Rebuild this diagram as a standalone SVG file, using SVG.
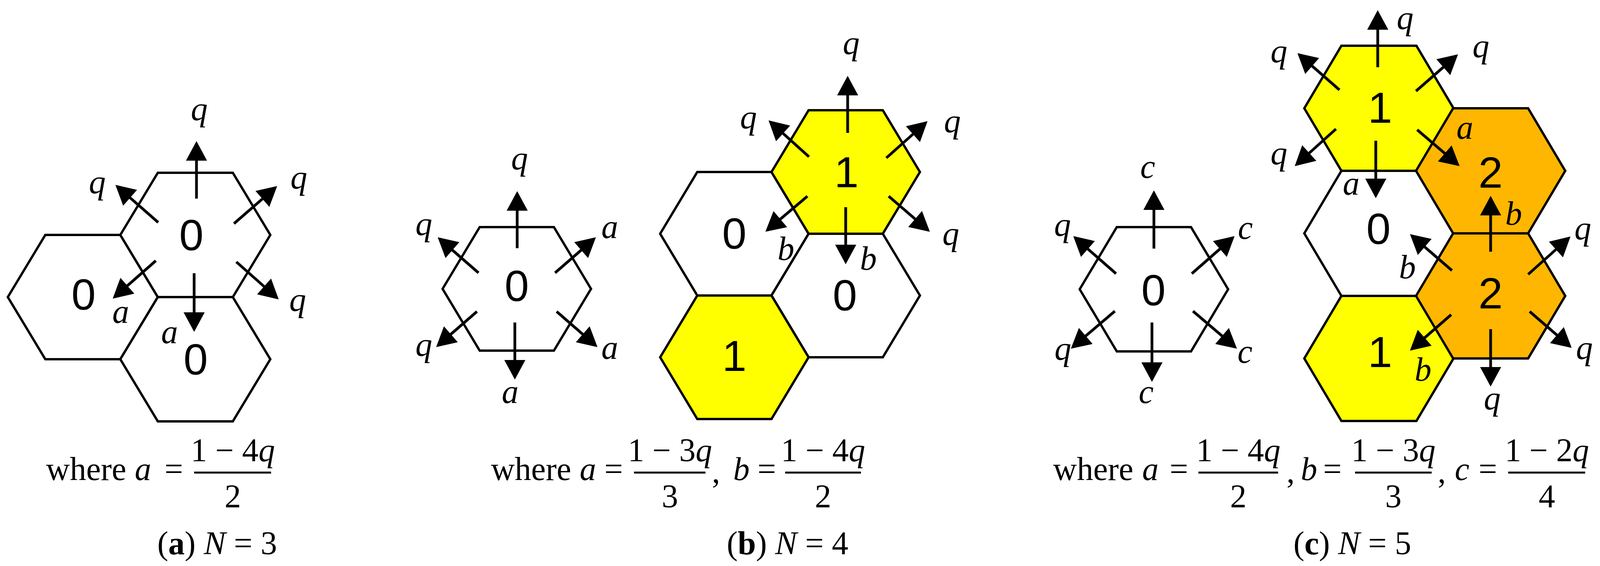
<svg xmlns="http://www.w3.org/2000/svg" width="4106" height="1448" viewBox="0 0 4106 1448">
<style>
.hx{stroke:#000;stroke-width:6;stroke-linejoin:miter}
.w{fill:#fff}.y{fill:#ffff00}.o{fill:#ffb600}
.n{font-family:"Liberation Sans",Arial,sans-serif;font-size:112px;text-anchor:middle;fill:#000}
.l{font-family:"Liberation Serif","Times New Roman",serif;font-style:italic;font-size:86px;text-anchor:middle;fill:#000}
.f{font-family:"Liberation Serif","Times New Roman",serif;font-size:84px;fill:#000}
.fc{text-anchor:middle}
.i{font-style:italic}
.bar{stroke:#000;stroke-width:5}
.ar line{stroke:#000;stroke-width:7;marker-end:url(#ah)}
</style>
<defs>
<marker id="ah" markerUnits="userSpaceOnUse" markerWidth="54" markerHeight="54" viewBox="0 0 50 54" refX="44" refY="27" orient="auto"><path d="M0,0 L50,27 L0,54 z" fill="#000"/></marker>
</defs>
<rect width="4106" height="1448" fill="#fff"/>
<g id="a-left"><polygon class="hx w" points="20,760 116,601 308,601 404,760 308,919 116,919"/><text class="n" x="214" y="792">0</text></g>
<g id="a-bottom"><polygon class="hx w" points="308,919 404,760 596,760 692,919 596,1078 404,1078"/><text class="n" x="501" y="958">0</text></g>
<g id="a-top"><polygon class="hx w" points="308,601 404,442 596,442 692,601 596,760 404,760"/><text class="n" x="490" y="640">0</text></g>
<g id="b-single"><polygon class="hx w" points="1133,739 1228,581 1418,581 1513,739 1418,897 1228,897"/><text class="n" x="1323" y="770">0</text></g>
<g id="b-left0"><polygon class="hx w" points="1690,598 1785,440 1975,440 2070,598 1975,756 1785,756"/><text class="n" x="1880" y="636">0</text></g>
<g id="b-right0"><polygon class="hx w" points="1975,756 2070,598 2260,598 2355,756 2260,914 2070,914"/><text class="n" x="2163" y="794">0</text></g>
<g id="b-top1"><polygon class="hx y" points="1975,440 2070,282 2260,282 2355,440 2260,598 2070,598"/><text class="n" x="2167" y="479">1</text></g>
<g id="b-bottom1"><polygon class="hx y" points="1690,914 1785,756 1975,756 2070,914 1975,1072 1785,1072"/><text class="n" x="1880" y="949">1</text></g>
<g id="c-single"><polygon class="hx w" points="2764,740 2859,581 3049,581 3144,740 3049,899 2859,899"/><text class="n" x="2953" y="781">0</text></g>
<g id="c-0"><polygon class="hx w" points="3339,597 3434,437 3626,437 3721,597 3626,757 3434,757"/><text class="n" x="3529" y="624">0</text></g>
<g id="c-top1"><polygon class="hx y" points="3339,277 3434,117 3626,117 3721,277 3626,437 3434,437"/><text class="n" x="3533" y="314">1</text></g>
<g id="c-bottom1"><polygon class="hx y" points="3339,917 3434,757 3626,757 3721,917 3626,1077 3434,1077"/><text class="n" x="3533" y="939">1</text></g>
<g id="c-2a"><polygon class="hx o" points="3625,437 3720,277 3912,277 4007,437 3912,597 3720,597"/><text class="n" x="3816" y="480">2</text></g>
<g id="c-2b"><polygon class="hx o" points="3625,757 3720,597 3912,597 4007,757 3912,917 3720,917"/><text class="n" x="3816" y="789">2</text></g>
<g id="connectors" class="ar">
<line x1="503" y1="508" x2="503" y2="367"/>
<line x1="405" y1="569" x2="300" y2="477"/>
<line x1="599" y1="572" x2="705" y2="480"/>
<line x1="399" y1="667" x2="293" y2="760"/>
<line x1="605" y1="670" x2="709" y2="762"/>
<line x1="497" y1="699" x2="497" y2="843"/>
<line x1="1324" y1="635" x2="1324" y2="495"/>
<line x1="1421" y1="698" x2="1521" y2="611"/>
<line x1="1425" y1="797" x2="1525" y2="884"/>
<line x1="1318" y1="825" x2="1318" y2="965"/>
<line x1="1225" y1="698" x2="1125" y2="611"/>
<line x1="1221" y1="797" x2="1121" y2="884"/>
<line x1="2170" y1="340" x2="2170" y2="200"/>
<line x1="2071" y1="401" x2="1972" y2="312"/>
<line x1="2269" y1="404" x2="2370" y2="314"/>
<line x1="2067" y1="502" x2="1964" y2="589"/>
<line x1="2275" y1="502" x2="2376" y2="589"/>
<line x1="2165" y1="530" x2="2165" y2="670"/>
<line x1="2954" y1="636" x2="2954" y2="493"/>
<line x1="3051" y1="700" x2="3156" y2="608"/>
<line x1="3054" y1="796" x2="3162" y2="888"/>
<line x1="2949" y1="825" x2="2949" y2="971"/>
<line x1="2857" y1="700" x2="2752" y2="608"/>
<line x1="2854" y1="796" x2="2746" y2="888"/>
<line x1="3527" y1="172" x2="3527" y2="32"/>
<line x1="3429" y1="230" x2="3326" y2="140"/>
<line x1="3625" y1="233" x2="3728" y2="143"/>
<line x1="3420" y1="330" x2="3319" y2="421"/>
<line x1="3628" y1="332" x2="3732" y2="421"/>
<line x1="3522" y1="360" x2="3522" y2="501"/>
<line x1="3816" y1="644" x2="3816" y2="507"/>
<line x1="3717" y1="692" x2="3614" y2="603"/>
<line x1="3912" y1="702" x2="4016" y2="609"/>
<line x1="3916" y1="797" x2="4019" y2="886"/>
<line x1="3715" y1="805" x2="3614" y2="893"/>
<line x1="3816" y1="842" x2="3816" y2="983"/>
</g>
<g id="labels">
<text class="l" x="510" y="307">q</text><text class="l" x="249" y="494">q</text><text class="l" x="765" y="482">q</text><text class="l" x="762" y="795">q</text><text class="l" x="309" y="826">a</text><text class="l" x="434" y="878">a</text>
<text class="l" x="1330" y="433">q</text><text class="l" x="1561" y="609">a</text><text class="l" x="1561" y="918">a</text><text class="l" x="1306" y="1031">a</text><text class="l" x="1085" y="601">q</text><text class="l" x="1085" y="910">q</text>
<text class="l" x="2179" y="138">q</text><text class="l" x="1916" y="328">q</text><text class="l" x="2438" y="338">q</text><text class="l" x="2012" y="665">b</text><text class="l" x="2434" y="626">q</text><text class="l" x="2223" y="690">b</text>
<text class="l" x="2938" y="455">c</text><text class="l" x="3188" y="611">c</text><text class="l" x="3187" y="928">c</text><text class="l" x="2934" y="1031">c</text><text class="l" x="2720" y="603">q</text><text class="l" x="2721" y="920">q</text>
<text class="l" x="3597" y="74">q</text><text class="l" x="3274" y="159">q</text><text class="l" x="3791" y="146">q</text><text class="l" x="3274" y="420">q</text><text class="l" x="3750" y="355">a</text><text class="l" x="3459" y="498">a</text>
<text class="l" x="3875" y="575">b</text><text class="l" x="3603" y="712">b</text><text class="l" x="4052" y="612">q</text><text class="l" x="4056" y="918">q</text><text class="l" x="3643" y="974">b</text><text class="l" x="3820" y="1047">q</text>
</g>
<g id="formulas">
<text class="f" x="118" y="1228">where</text><text class="f fc i" x="366" y="1228">a</text><text class="f fc" x="445" y="1228">=</text>
<text class="f fc" x="596" y="1180">1 − 4<tspan class="i">q</tspan></text><line class="bar" x1="497" y1="1209" x2="694" y2="1209"/><text class="f fc" x="596" y="1298">2</text>
<text class="f" x="1257" y="1228">where</text><text class="f fc i" x="1505" y="1228">a</text><text class="f fc" x="1571" y="1228">=</text>
<text class="f fc" x="1715" y="1180">1 − 3<tspan class="i">q</tspan></text><line class="bar" x1="1623" y1="1209" x2="1806" y2="1209"/><text class="f fc" x="1715" y="1298">3</text>
<text class="f fc" x="1833" y="1235">,</text><text class="f fc i" x="1898" y="1228">b</text><text class="f fc" x="1963" y="1228">=</text>
<text class="f fc" x="2107" y="1180">1 − 4<tspan class="i">q</tspan></text><line class="bar" x1="2010" y1="1209" x2="2204" y2="1209"/><text class="f fc" x="2107" y="1298">2</text>
<text class="f" x="2696" y="1228">where</text><text class="f fc i" x="2945" y="1228">a</text><text class="f fc" x="3018" y="1228">=</text>
<text class="f fc" x="3170" y="1180">1 − 4<tspan class="i">q</tspan></text><line class="bar" x1="3068" y1="1209" x2="3272" y2="1209"/><text class="f fc" x="3170" y="1298">2</text>
<text class="f fc" x="3304" y="1235">,</text><text class="f fc i" x="3351" y="1228">b</text><text class="f fc" x="3411" y="1228">=</text>
<text class="f fc" x="3567" y="1180">1 − 3<tspan class="i">q</tspan></text><line class="bar" x1="3469" y1="1209" x2="3665" y2="1209"/><text class="f fc" x="3567" y="1298">3</text>
<text class="f fc" x="3691" y="1235">,</text><text class="f fc i" x="3743" y="1228">c</text><text class="f fc" x="3809" y="1228">=</text>
<text class="f fc" x="3960" y="1180">1 − 2<tspan class="i">q</tspan></text><line class="bar" x1="3861" y1="1209" x2="4058" y2="1209"/><text class="f fc" x="3960" y="1298">4</text>
</g>
<g id="captions">
<text class="f fc" x="556" y="1418">(<tspan font-weight="bold">a</tspan>) <tspan class="i">N</tspan> = 3</text>
<text class="f fc" x="2016" y="1418">(<tspan font-weight="bold">b</tspan>) <tspan class="i">N</tspan> = 4</text>
<text class="f fc" x="3462" y="1418">(<tspan font-weight="bold">c</tspan>) <tspan class="i">N</tspan> = 5</text>
</g>
</svg>
